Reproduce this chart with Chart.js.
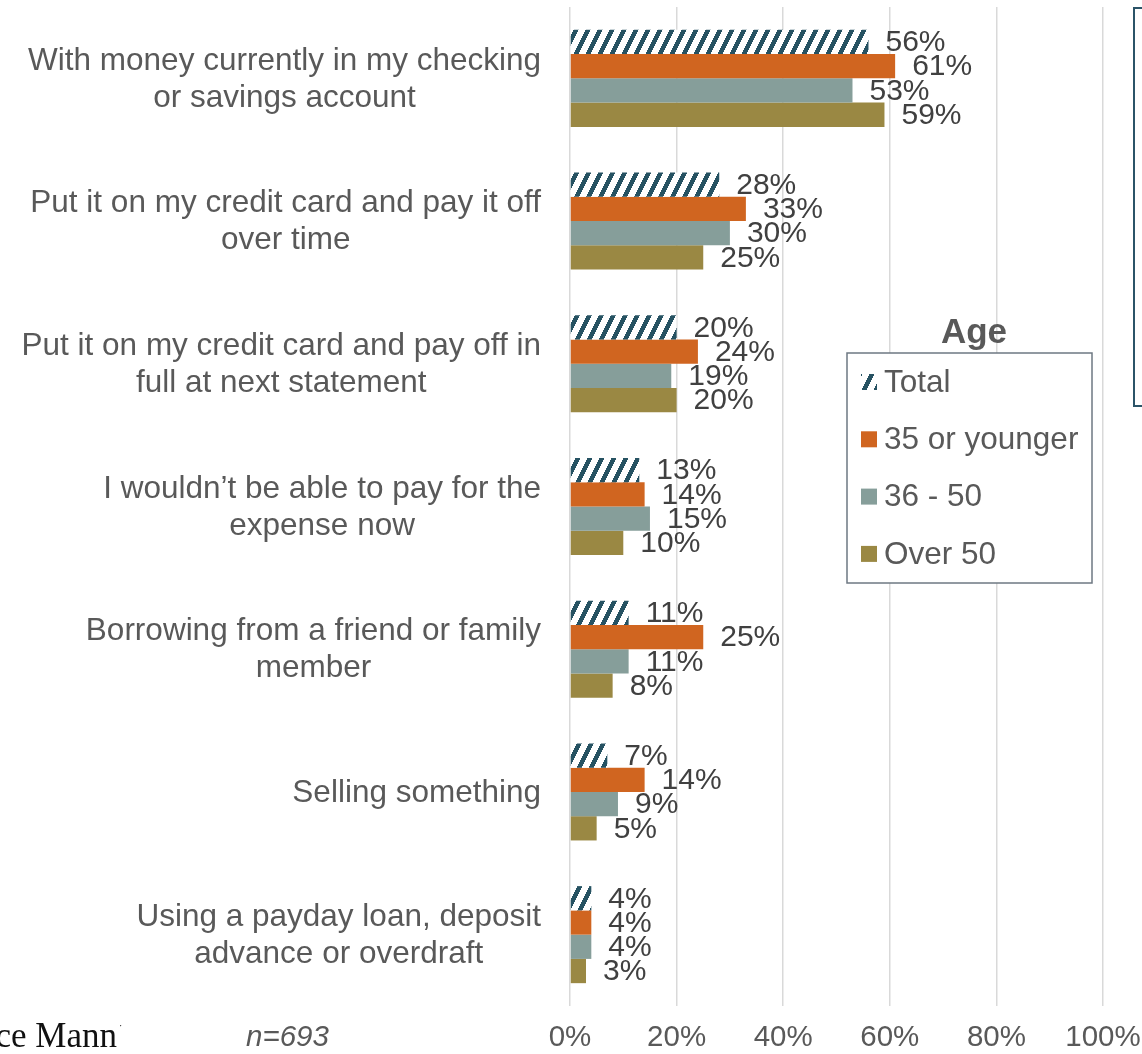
<!DOCTYPE html>
<html>
<head>
<meta charset="utf-8">
<script src="https://cdn.jsdelivr.net/npm/chart.js@4/dist/chart.umd.min.js"></script>
<style>
  html, body { margin: 0; padding: 0; background: #ffffff; }
  #wrap { width: 1142px; height: 1054px; position: relative; }
</style>
</head>
<body>
<div id="wrap"><canvas id="chart" width="1142" height="1054"></canvas></div>
<script>
// Survey answers: how respondents would cover an unexpected expense
const categories = [
  ["With money currently in my checking", "or savings account"],
  ["Put it on my credit card and pay it off", "over time"],
  ["Put it on my credit card and pay off in", "full at next statement"],
  ["I wouldn’t be able to pay for the", "expense now"],
  ["Borrowing from a friend or family", "member"],
  ["Selling something"],
  ["Using a payday loan, deposit", "advance or overdraft"]
];

const seriesNames = ["Total", "35 or younger", "36 - 50", "Over 50"];

const totalValues   = [56, 28, 20, 13, 11, 7, 4];
const under35Values = [61, 33, 24, 14, 25, 14, 4];
const age36to50     = [53, 30, 19, 15, 11, 9, 4];
const over50Values  = [59, 25, 20, 10, 8, 5, 3];

const xTicks = [0, 20, 40, 60, 80, 100];

const legendTitle = "Age";
const sampleNote = "n=693";
const brandText = "Horace Mann";

// Diagonal hatch used for the "Total" series
function makeHatch() {
  const w = 12, h = 24;
  const c = document.createElement('canvas');
  c.width = w; c.height = h;
  const g = c.getContext('2d');
  const img = g.createImageData(w, h);
  for (let y = 0; y < h; y++) {
    for (let x = 0; x < w; x++) {
      const u = ((x + y * 0.5) % w + w) % w;
      const dark = u < 4.6;
      const i = (y * w + x) * 4;
      if (dark) { img.data[i] = 0x26; img.data[i+1] = 0x52; img.data[i+2] = 0x62; }
      else { img.data[i] = 255; img.data[i+1] = 255; img.data[i+2] = 255; }
      img.data[i+3] = 255;
    }
  }
  g.putImageData(img, 0, 0);
  return document.getElementById('chart').getContext('2d').createPattern(c, 'repeat');
}

const hatch = makeHatch();
const colors = [hatch, '#D06520', '#869E9A', '#9A8843'];
const valueLists = [totalValues, under35Values, age36to50, over50Values];

const TEXT_GREY = '#595959';
const FONT = "'Liberation Sans', Arial, sans-serif";

// Category labels: block right-aligned against the plot, lines centred within the block
const categoryLabels = {
  id: 'categoryLabels',
  afterDraw(chart) {
    const ctx = chart.ctx;
    const yScale = chart.scales.y;
    const rightEdge = 541;
    const lineH = 37;
    ctx.save();
    ctx.font = "31.5px " + FONT;
    ctx.fillStyle = TEXT_GREY;
    ctx.textAlign = 'center';
    ctx.textBaseline = 'middle';
    categories.forEach((lines, i) => {
      const cy = yScale.getPixelForValue(i) + 1;
      const maxW = Math.max(...lines.map(l => ctx.measureText(l).width));
      const cx = rightEdge - maxW / 2;
      const top = cy - (lines.length - 1) * lineH / 2;
      lines.forEach((l, j) => ctx.fillText(l, cx, top + j * lineH));
    });
    ctx.restore();
  }
};

// Percentage tick labels under the value axis
const axisLabels = {
  id: 'axisLabels',
  afterDraw(chart) {
    const ctx = chart.ctx;
    const xScale = chart.scales.x;
    ctx.save();
    ctx.font = "29.5px " + FONT;
    ctx.fillStyle = TEXT_GREY;
    ctx.textAlign = 'center';
    ctx.textBaseline = 'middle';
    xTicks.forEach(v => ctx.fillText(v + '%', xScale.getPixelForValue(v), 1038));
    ctx.restore();
  }
};

// Percentage labels placed just past the end of each bar
const valueLabels = {
  id: 'valueLabels',
  afterDatasetsDraw(chart) {
    const ctx = chart.ctx;
    ctx.save();
    ctx.font = "30px " + FONT;
    ctx.fillStyle = '#404040';
    ctx.textAlign = 'left';
    ctx.textBaseline = 'middle';
    chart.data.datasets.forEach((ds, di) => {
      const meta = chart.getDatasetMeta(di);
      meta.data.forEach((bar, i) => {
        ctx.fillText(ds.data[i] + '%', bar.x + 17, bar.y + 1);
      });
    });
    ctx.restore();
  }
};

// Boxed legend with a title, plus footnote text and the side panel frame
const boxedLegend = {
  id: 'boxedLegend',
  afterDraw(chart) {
    const ctx = chart.ctx;
    ctx.save();
    // side panel frame (continues past the right edge)
    ctx.strokeStyle = '#2B5468';
    ctx.lineWidth = 2;
    ctx.strokeRect(1134, 8, 30, 398);

    // legend title
    ctx.fillStyle = '#595959';
    ctx.font = "bold 35px " + FONT;
    ctx.textAlign = 'center';
    ctx.textBaseline = 'alphabetic';
    ctx.fillText(legendTitle, 974, 343);

    // legend box
    ctx.fillStyle = '#ffffff';
    ctx.fillRect(847, 353, 245, 230);
    ctx.strokeStyle = '#6E7882';
    ctx.lineWidth = 1.5;
    ctx.strokeRect(847, 353, 245, 230);

    ctx.font = "31.5px " + FONT;
    ctx.textAlign = 'left';
    ctx.textBaseline = 'middle';
    chart.data.datasets.forEach((ds, i) => {
      const cy = 382 + i * 57.3;
      ctx.fillStyle = ds.backgroundColor;
      ctx.fillRect(861, cy - 8, 16, 16);
      ctx.fillStyle = TEXT_GREY;
      ctx.fillText(ds.label, 884, cy + 1);
    });

    // footnotes
    ctx.font = "italic 29.5px " + FONT;
    ctx.fillStyle = TEXT_GREY;
    ctx.textBaseline = 'middle';
    ctx.fillText(sampleNote, 246, 1038);

    ctx.font = "35px 'Liberation Serif', 'Times New Roman', serif";
    ctx.fillStyle = '#111111';
    ctx.textAlign = 'right';
    ctx.fillText(brandText, 117, 1038);
    ctx.font = "10px 'Liberation Serif', serif";
    ctx.textAlign = 'left';
    ctx.fillText('·', 119, 1026);
    ctx.restore();
  }
};

new Chart(document.getElementById('chart'), {
  type: 'bar',
  data: {
    labels: categories,
    datasets: seriesNames.map((name, i) => ({
      label: name,
      data: valueLists[i],
      backgroundColor: colors[i],
      borderWidth: 0,
      barPercentage: 1.0,
      categoryPercentage: 0.68
    }))
  },
  options: {
    indexAxis: 'y',
    responsive: false,
    animation: false,
    devicePixelRatio: 1,
    layout: { padding: { left: 570, right: 39, top: 7, bottom: 48 } },
    plugins: {
      legend: { display: false },
      tooltip: { enabled: false }
    },
    scales: {
      x: {
        min: 0,
        max: 100,
        afterBuildTicks(scale) { scale.ticks = xTicks.map(v => ({ value: v })); },
        ticks: { display: false },
        grid: { color: '#D9D9D9', lineWidth: 1.5, drawTicks: false },
        border: { display: false }
      },
      y: {
        display: false,
        grid: { display: false }
      }
    }
  },
  plugins: [categoryLabels, axisLabels, valueLabels, boxedLegend]
});
</script>
</body>
</html>
